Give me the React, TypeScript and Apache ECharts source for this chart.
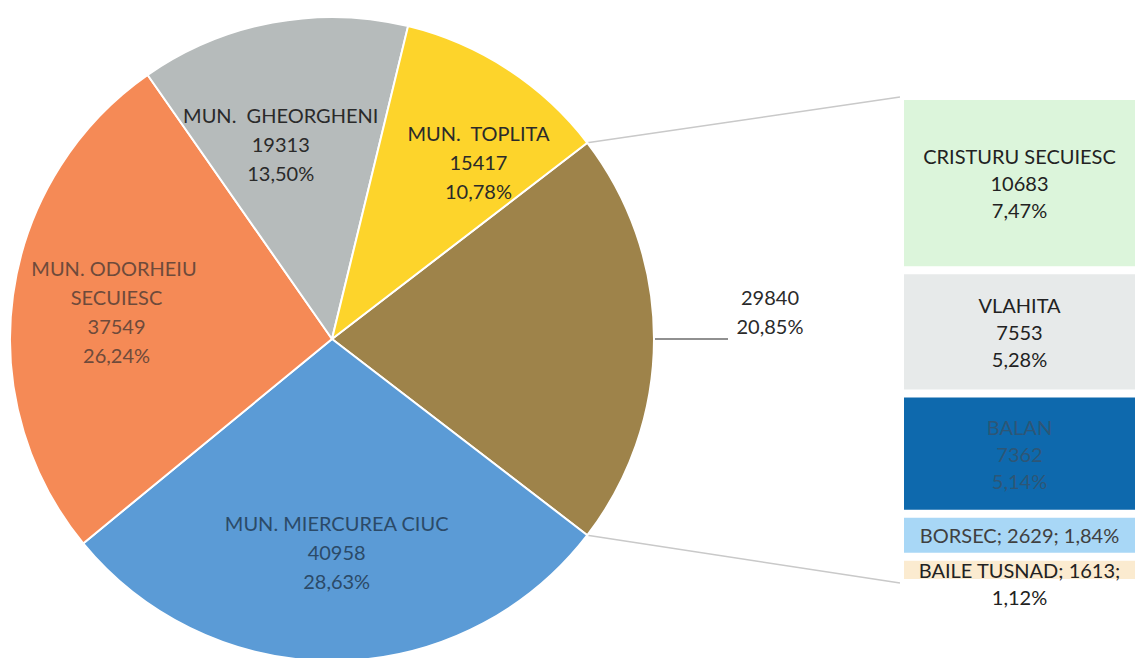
import React, { useEffect, useRef } from 'react';
import * as echarts from 'echarts';

// ---- data ----
const pieCategories = ['ALTE ORASE', 'MUN. MIERCUREA CIUC', 'MUN. ODORHEIU SECUIESC', 'MUN.  GHEORGHENI', 'MUN.  TOPLITA'];
const pieValues = [29840, 40958, 37549, 19313, 15417];
const piePercents = ['20,85%', '28,63%', '26,24%', '13,50%', '10,78%'];

const barCategories = ['CRISTURU SECUIESC', 'VLAHITA', 'BALAN', 'BORSEC', 'BAILE TUSNAD'];
const barValues = [10683, 7553, 7362, 2629, 1613];
const barPercents = ['7,47%', '5,28%', '5,14%', '1,84%', '1,12%'];

// ---- styling ----
const FONT = 'Lato, "Noto Sans", sans-serif';
const pieColors = ['#9E834A', '#5B9BD6', '#F58A56', '#B6BBBB', '#FDD42B'];
const pieTextColors = ['#2a2a2a', '#2b4a68', '#6e4a3b', '#2a2a2a', '#2a2a2a'];
const pieLabelOffsets = [[0, 0], [2, 49], [-53, -5], [-21, -34], [57, -40]];
const barColors = ['#DCF5DB', '#E7EAEA', '#0E69AD', '#A8D7F6', '#FBEBD0'];
const barTextColors = ['#222222', '#222222', '#2d5676', '#404040', '#222222'];
const barLabelModes = ['stack', 'stack', 'stack', 'inline', 'wrap'];

const CX = 332;
const CY = 339;
const R = 322;
const BAR_LEFT = 900;
const BAR_TOP = 96;
const BAR_HEIGHT = 487;

export default function App() {
  const ref = useRef<HTMLDivElement>(null);

  useEffect(() => {
    document.body.style.margin = '0';
    if (!ref.current) return;
    const chart = echarts.init(ref.current, undefined, { renderer: 'svg' });

    const total = pieValues.reduce((a, b) => a + b, 0);
    const halfAngle = (pieValues[0] / total) * 180;
    const rad = (halfAngle * Math.PI) / 180;
    const pTop = [CX + R * Math.cos(rad), CY - R * Math.sin(rad)];
    const pBot = [CX + R * Math.cos(rad), CY + R * Math.sin(rad)];

    const pieData = pieCategories.map((name, i) => {
      const item: any = {
        name,
        value: pieValues[i],
        itemStyle: { color: pieColors[i] },
        label: { color: pieTextColors[i] },
      };
      if (i === 0) {
        item.label = {
          position: 'outside',
          formatter: `{a|${pieValues[i]}}\n{a|${piePercents[i]}}`,
          padding: [0, 0, 56, 0],
          rich: {
            a: { width: 74, align: 'center', fontSize: 20, lineHeight: 29, color: '#2a2a2a', fontFamily: FONT },
          },
        };
        item.labelLine = { show: true, length: 6, length2: 68, lineStyle: { color: '#222', width: 1.2 } };
      }
      if (i === 2) {
        item.label.width = 190;
        item.label.overflow = 'break';
      }
      return item;
    });

    const barSeries = barCategories.map((name, i) => {
      const mode = barLabelModes[i];
      let text = `${name}\n${barValues[i]}\n${barPercents[i]}`;
      if (mode === 'inline') text = `${name}; ${barValues[i]}; ${barPercents[i]}`;
      if (mode === 'wrap') text = `${name}; ${barValues[i]};\n${barPercents[i]}`;
      return {
        type: 'bar',
        name,
        stack: 'sub',
        data: [barValues[i]],
        barWidth: '100%',
        itemStyle: { color: barColors[i], borderColor: '#ffffff', borderWidth: 4 },
        label: {
          show: true,
          position: mode === 'wrap' ? ['50%', 0] : 'inside',
          align: 'center',
          verticalAlign: mode === 'wrap' ? 'top' : 'middle',
          formatter: () => text,
          color: barTextColors[i],
          fontSize: 20,
          lineHeight: 27,
          fontFamily: FONT,
        },
      };
    });

    chart.setOption({
      animation: false,
      backgroundColor: '#ffffff',
      grid: { left: BAR_LEFT, top: BAR_TOP, width: 260, height: BAR_HEIGHT },
      xAxis: { type: 'category', data: ['sub'], show: false },
      yAxis: { type: 'value', min: 0, max: pieValues[0], inverse: true, show: false },
      graphic: [
        { type: 'line', shape: { x1: pTop[0], y1: pTop[1], x2: BAR_LEFT, y2: BAR_TOP + 1 }, style: { stroke: '#c9c9c9', lineWidth: 1.5 } },
        { type: 'line', shape: { x1: pBot[0], y1: pBot[1], x2: BAR_LEFT, y2: BAR_TOP + BAR_HEIGHT } , style: { stroke: '#c9c9c9', lineWidth: 1.5 } },
      ],
      series: [
        {
          type: 'pie',
          center: [CX, CY],
          radius: [0, R],
          startAngle: halfAngle,
          clockwise: true,
          avoidLabelOverlap: false,
          itemStyle: { borderColor: '#ffffff', borderWidth: 2 },
          label: {
            show: true,
            position: 'inside',
            fontSize: 20,
            lineHeight: 29,
            fontFamily: FONT,
            align: 'center',
            formatter: (p: any) => `${p.name}\n${p.value}\n${piePercents[p.dataIndex]}`,
          },
          labelLine: { show: false },
          labelLayout: (params: any) => {
            const o = pieLabelOffsets[params.dataIndex];
            if (params.dataIndex === 0) return {};
            return { dx: o[0], dy: o[1] };
          },
          emphasis: { disabled: true },
          data: pieData,
        },
        ...barSeries,
      ],
    });

    return () => chart.dispose();
  }, []);

  return <div ref={ref} style={{ width: 1139, height: 658 }} />;
}
